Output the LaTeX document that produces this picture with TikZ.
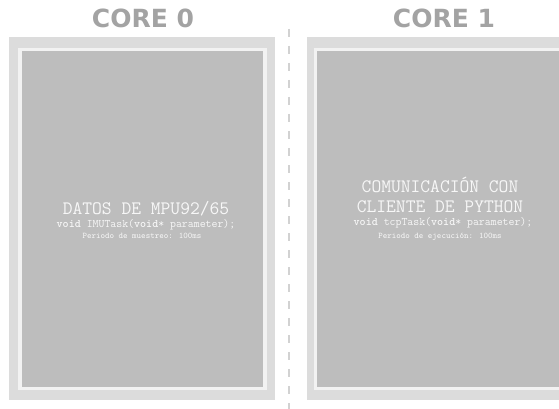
\documentclass[tikz,border=0pt]{standalone}
\usepackage{fontspec}
\newfontfamily\titlefont{DejaVu Sans}
\definecolor{outerc}{HTML}{DCDCDC}
\definecolor{framec}{HTML}{F2F2F2}
\definecolor{innerc}{HTML}{BDBDBD}
\definecolor{titlec}{HTML}{A3A3A3}
\definecolor{txtc}{HTML}{F7F7F7}
\definecolor{dashc}{HTML}{D2D2D2}
\begin{document}
\begin{tikzpicture}[x=1pt,y=-1pt,
  outerbox/.style={fill=outerc,draw=none,minimum width=266pt,minimum height=363pt,inner sep=0pt},
  innerbox/.style={fill=innerc,draw=framec,line width=3.8pt,inner sep=0pt},
  coretitle/.style={text=titlec,font=\titlefont\bfseries\fontsize{25}{25}\selectfont,anchor=base},
  bigline/.style={text=txtc,font=\ttfamily\fontsize{19}{19}\selectfont,anchor=base,inner sep=0pt},
  midline/.style={text=txtc,font=\ttfamily\fontsize{11.5}{11.5}\selectfont,anchor=base,inner sep=0pt},
  smallline/.style={text=txtc,font=\ttfamily\fontsize{8.6}{8.6}\selectfont,anchor=base,inner sep=0pt},
  divider/.style={draw=dashc,line width=2.5pt,dash pattern=on 8pt off 9pt}]
\useasboundingbox (0,0) rectangle (559,409);
\fill[white] (0,0) rectangle (559,409);
% titles
\node[coretitle] (t0) at (143,28) {CORE 0};
\node[coretitle] (t1) at (444,28) {CORE 1};
% divider
\coordinate (dtop) at (289,29);
\coordinate (dbot) at (289,412);
\draw[divider] (dtop) -- (dbot);
% left box
\node[outerbox] (o0) at (142,218.5) {};
\node[innerbox,minimum width=245pt,minimum height=339pt] (i0) at (142.5,219) {};
% right box
\node[outerbox] (o1) at (440,218.5) {};
\node[innerbox,minimum width=249pt,minimum height=339pt] (i1) at (440,219) {};
% left texts
\node[bigline] (l0a) at (146,214) {DATOS DE MPU92/65};
\node[midline] (l0b) at (146,227) {\textbf{void} IMUTask(\textbf{void}* parameter);};
\node[smallline] (l0c) at (142,238) {Periodo de muestreo: 100ms};
% right texts
\node[bigline] (l1a) at (440,192) {COMUNICACIÓN CON};
\node[bigline] (l1b) at (440,212) {CLIENTE DE PYTHON};
\node[midline] (l1c) at (443,225) {\textbf{void} tcpTask(\textbf{void}* parameter);};
\node[smallline] (l1d) at (440,238) {Periodo de ejecución: 100ms};
\end{tikzpicture}
\end{document}
